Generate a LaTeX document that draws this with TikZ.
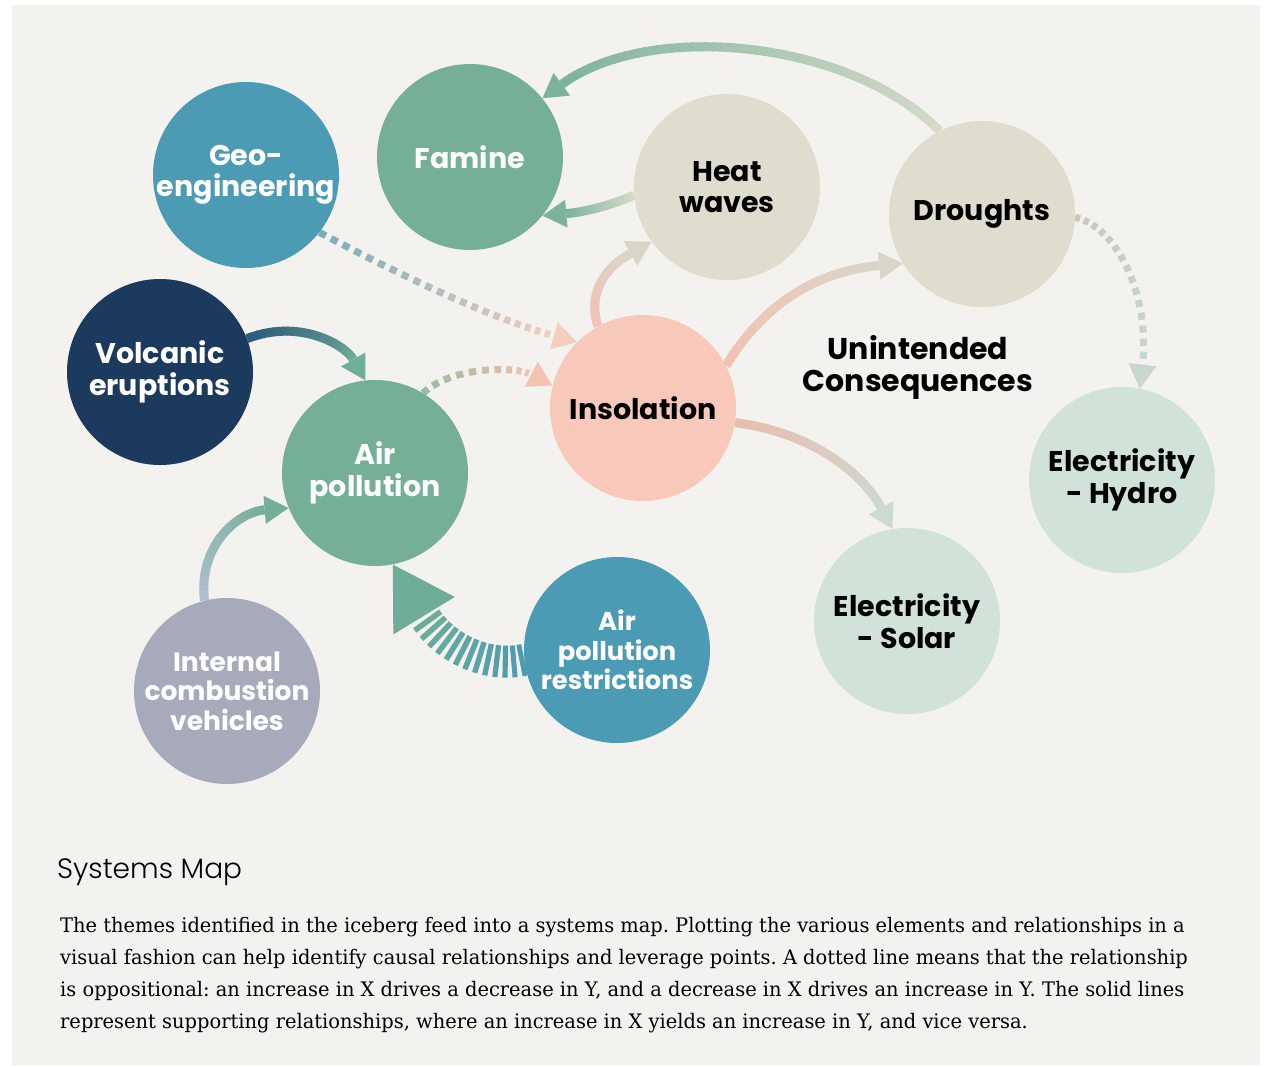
\documentclass[tikz,border=0pt]{standalone}
\usepackage{fontspec}
\usetikzlibrary{calc,backgrounds}
\newfontfamily\bubfont{Poppins}
\newfontfamily\capfont{Poppins Light}
\newfontfamily\parafont{DejaVu Serif}[FakeStretch=0.972]

\definecolor{panel}{HTML}{F3F2EE}
\definecolor{seablue}{HTML}{4A9BB3}
\definecolor{sage}{HTML}{75B096}
\definecolor{sand}{HTML}{DFDDCE}
\definecolor{navy}{HTML}{1B3A5E}
\definecolor{peach}{HTML}{F8C9BA}
\definecolor{mint}{HTML}{D1E2D9}
\definecolor{slate}{HTML}{A6AABB}

% head size of the arrow tips
\def\HeadL{24pt}
\def\HeadHW{14pt}

% #1 start, #2 #3 controls, #4 tip, #5 start colour, #6 end colour,
% #7 line width, #8 filled share of each step (>1 gives a solid line), #9 steps
\newcommand\FlowLink[9]{%
  \coordinate (fl-tip) at (#4);
  \coordinate (fl-base) at ($(fl-tip)!\HeadL!(#3)$);
  \foreach \i in {1,...,#9}{%
    \pgfmathsetmacro\flta{(\i-1)/#9}%
    \pgfmathsetmacro\fltb{min((\i-1+#8)/#9,1)}%
    \pgfmathtruncatemacro\flmix{100*(1-(\i-0.5)/#9)}%
    \path (#1) .. controls (#2) and (#3) .. (fl-base)
      coordinate[pos=\flta] (fl-a) coordinate[pos=\fltb] (fl-b);
    \draw[line width=#7, draw=#5!\flmix!#6] (fl-a) -- (fl-b);
  }%
  \fill[#6] (fl-tip) -- ($(fl-base)!\HeadHW!90:(fl-tip)$)
    -- ($(fl-base)!\HeadHW!-90:(fl-tip)$) -- cycle;
}

\begin{document}
\begin{tikzpicture}[x=1pt,y=-1pt,
  bubble/.style={circle, minimum size=186pt, inner sep=-14pt, align=center,
    font=\bubfont\bfseries\fontsize{28.5}{31.5}\selectfont},
  darktext/.style={bubble, text=white},
  lighttext/.style={bubble, text=black}]
\useasboundingbox (0,0) rectangle (1265,1066);

% circles
\node[darktext, fill=seablue] (geo) at (246,175) {Geo-\\engineering};
\node[darktext, fill=sage] (fam) at (470,157) {Famine};
\node[lighttext, fill=sand] (heat) at (727,187) {Heat\\waves};
\node[lighttext, fill=sand] (dro) at (982,214) {Droughts};
\node[darktext, fill=navy] (volc) at (160,372) {Volcanic\\eruptions};
\node[darktext, fill=sage] (air) at (375,473) {Air\\pollution};
\node[lighttext, fill=peach] (ins) at (643,408) {Insolation};
\node[lighttext, fill=mint] (hyd) at (1122,480) {Electricity\\- Hydro};
\node[lighttext, fill=mint] (sol) at (907,621) {Electricity\\- Solar};
\node[darktext, fill=seablue, font=\bubfont\bfseries\fontsize{25.8}{29.5}\selectfont] (res) at (617,650) {Air\\pollution\\restrictions};
\node[darktext, fill=slate, font=\bubfont\bfseries\fontsize{26.5}{29.5}\selectfont] (ice) at (227,691) {Internal\\combustion\\vehicles};
\node[font=\bubfont\bfseries\fontsize{30}{32}\selectfont, align=center] (unint) at (918,367) {Unintended\\Consequences};

% caption
\node[anchor=base west, font=\capfont\fontsize{28}{32}\selectfont, inner sep=0pt] (capt) at (57,878) {Systems Map};
\node[anchor=north west, align=left, inner sep=0pt,
  font=\parafont\frenchspacing\fontsize{20}{32}\selectfont] (para) at (60,917) {%
The themes identified in the iceberg feed into a systems map. Plotting the various elements and relationships in a\\
visual fashion can help identify causal relationships and leverage points. A dotted line means that the relationship\\
is oppositional: an increase in X drives a decrease in Y, and a decrease in X drives an increase in Y. The solid lines\\
represent supporting relationships, where an increase in X yields an increase in Y, and vice versa.};

\begin{pgfonlayer}{background}
\fill[white] (0,0) rectangle (1265,1066);
\fill[panel] (12,5) rectangle (1260,1065);

% dotted (oppositional) links
\FlowLink{geo.-38}{400,275}{490,318}{ins.135}{seablue}{peach!90!brown!80!white}{7pt}{0.55}{21}
\FlowLink{air.59}{452,366}{515,366}{ins.166}{sage!80!white}{peach!92!brown}{7pt}{0.55}{10}
\FlowLink{dro.-2}{1120,228}{1150,300}{hyd.79}{sand!95!black}{mint!95!black}{7pt}{0.55}{15}

% solid (supporting) links
\FlowLink{volc.21}{300,318}{345,345}{air.96}{navy!75!seablue}{sage!90!seablue}{9pt}{1.25}{30}
\FlowLink{ice.104}{198,545}{238,512}{air.202}{slate!80!seablue!70!white}{sage!95!seablue}{9pt}{1.25}{30}
\FlowLink{ins.119}{585,285}{615,262}{heat.216}{peach}{sand!97!black}{9pt}{1.25}{30}
\FlowLink{ins.27}{770,293}{830,270}{dro.212}{peach}{sand!97!black}{9pt}{1.25}{40}
\FlowLink{ins.-9}{810,432}{862,472}{sol.99}{peach!97!black}{mint!97!black}{9pt}{1.25}{40}
\FlowLink{heat.185}{612,205}{585,212}{fam.-39}{sand!90!sage}{sage!95!white}{9pt}{1.25}{20}
\FlowLink{dro.117}{850,40}{650,20}{fam.39}{sand!90!sage}{sage!95!white}{9pt}{1.25}{60}

% hatched link from the restrictions back to air pollution
\def\HeadL{60pt}
\def\HeadHW{36pt}
\FlowLink{res.186}{490,668}{445,650}{air.-79}{seablue}{sage!85!seablue}{32pt}{0.6}{13}
\end{pgfonlayer}
\end{tikzpicture}
\end{document}
